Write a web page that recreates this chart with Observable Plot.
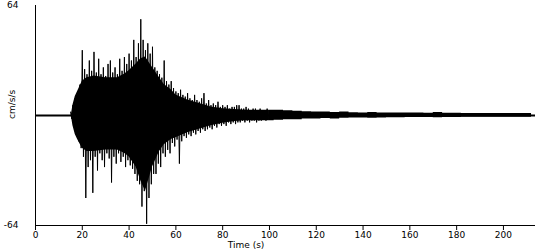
<!DOCTYPE html>
<html><head><meta charset="utf-8">
<script src="https://cdn.jsdelivr.net/npm/d3@7"></script>
<script src="https://cdn.jsdelivr.net/npm/@observablehq/plot@0.6"></script>
<style>body{margin:0;background:#fff}</style>
</head><body><div id="chart"></div>
<script>
// Tick labels
const xTicks = [0, 20, 40, 60, 80, 100, 120, 140, 160, 180, 200];
const yTicks = [-64, 64];
const xMax = 213.7;

// Strong-motion part: one sample per second from t = 15 s (peak up, then peak down half a second later)
const startTime = 15;
const upper = [
  2, 6, 10, 14, 18, 38, 27, 24, 32, 26,
  37, 25, 33, 24, 28, 23, 30, 32, 25, 28,
  24, 33, 26, 34, 30, 36, 32, 44, 34, 42,
  56, 44, 38, 42, 36, 40, 28, 26, 24, 22,
  32, 20, 18, 20, 16, 14, 13, 15, 12, 11,
  13, 10, 9, 12, 9, 8, 10, 13, 7, 9,
  6, 7, 6, 8, 5, 6, 5, 6, 4, 5,
  5, 6, 6, 4, 4, 5, 4, 3, 4, 4,
  3, 4, 3, 3, 4
];
const lower = [
  -2, -6, -11, -15, -19, -24, -48, -30, -26, -45,
  -24, -32, -22, -26, -30, -22, -25, -39, -24, -28,
  -22, -27, -24, -30, -26, -29, -31, -34, -38, -40,
  -53, -44, -63, -48, -40, -34, -34, -28, -30, -22,
  -24, -20, -22, -16, -18, -14, -28, -15, -12, -13,
  -11, -12, -10, -11, -9, -10, -8, -9, -8, -7,
  -8, -6, -7, -5, -6, -5, -6, -4, -5, -4,
  -5, -4, -4, -3, -4, -3, -4, -3, -3, -4,
  -3, -3, -2, -3, -2
];

// Solid core of the record (dense black band)
const coreTimes = [15.3, 16, 17, 18, 20, 22, 25, 30, 35, 38, 40, 43, 45, 47, 50, 53, 55, 58, 60, 65, 70, 75, 80, 85, 90, 95, 100];
const coreUpper = [0, 6, 11, 14, 20, 22, 23, 22, 22, 24, 26, 30, 33, 34, 28, 22, 18, 15, 12, 9, 7, 5, 4, 3.5, 3, 3, 3];
const coreLower = [0, -6, -11, -14, -19, -21, -21, -20, -20, -22, -24, -30, -38, -44, -30, -21, -17, -14, -13, -10, -8, -6, -4.5, -3.5, -3, -3, -3];

// Coda (tail) envelope, every 4 s
const tailTimes = [100, 104, 108, 112, 116, 120, 124, 128, 132, 136, 140, 144, 148, 152, 156, 160, 164, 168, 172, 176, 180, 184, 188, 192, 196, 200, 204, 208, 212];
const tailUpper = [3, 3, 2.8, 2.5, 2.2, 2, 2, 1.8, 2, 1.6, 1.5, 1.8, 1.5, 1.5, 1.4, 1.5, 1.4, 1.3, 1.8, 1.3, 1.3, 1.2, 1.2, 1.2, 1.2, 1.2, 1.2, 1.2, 1.2];
const tailLower = [-3, -2.8, -2.5, -2.5, -2, -2, -1.8, -2, -1.6, -1.5, -1.5, -1.6, -1.4, -1.3, -1.3, -1.2, -1.2, -1.2, -1.3, -1.1, -1.1, -1, -1, -1, -1, -1, -1, -1, -1];

const points = [];
upper.forEach((u, i) => {
  points.push({t: startTime + i, v: u});
  points.push({t: startTime + i + 0.5, v: lower[i]});
});
const core = coreTimes.map((t, i) => ({t, hi: coreUpper[i], lo: coreLower[i]}));
const tail = tailTimes.map((t, i) => ({t, hi: tailUpper[i], lo: tailLower[i]}));

const chart = Plot.plot({
  width: 550, height: 250,
  marginLeft: 35, marginRight: 15, marginTop: 5, marginBottom: 25,
  style: {fontFamily: "DejaVu Sans", fontSize: "9px", color: "black", background: "white"},
  x: {domain: [0, xMax]},
  y: {domain: [-64, 64]},
  marks: [
    Plot.ruleY([0], {x1: 0, x2: xMax, strokeWidth: 2}),
    Plot.areaY(core, {x: "t", y1: "lo", y2: "hi", fill: "black"}),
    Plot.areaY(tail, {x: "t", y1: "lo", y2: "hi", curve: "step", fill: "black"}),
    Plot.line(points, {x: "t", y: "v", stroke: "black", strokeWidth: 1}),
    Plot.axisX({ticks: xTicks, tickSize: 5, tickPadding: 1, label: null}),
    Plot.axisY({ticks: yTicks, tickSize: 0, tickPadding: 17, label: null, tickFormat: d => String(d)}),
    Plot.ruleX([0], {stroke: "black"}),
    Plot.ruleY([-64], {stroke: "black"}),
    Plot.text(["Time (s)"], {text: d => d, x: 90, frameAnchor: "bottom", dy: 22}),
    Plot.text(["cm/s/s"], {text: d => d, y: -2, frameAnchor: "left", dx: -23, rotate: -90})
  ]
});
document.getElementById("chart").appendChild(chart);
</script>
</body></html>
